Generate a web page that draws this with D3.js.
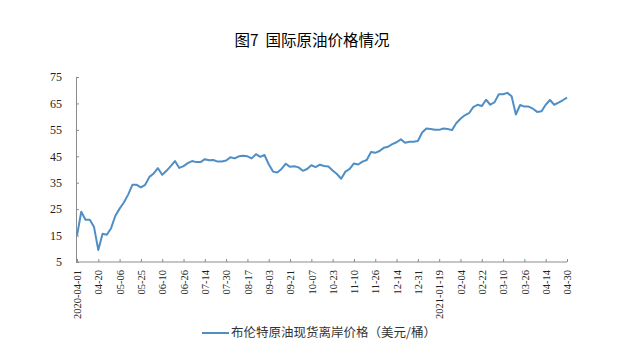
<!DOCTYPE html>
<html>
<head>
<meta charset="utf-8">
<script src="https://cdn.jsdelivr.net/npm/d3@7"></script>
<style>
  body { margin: 0; background: #fff; }
  .axis path, .axis line { stroke: #8c8c8c; }
  .axis text { font-family: "Liberation Serif", "DejaVu Serif", serif; fill: #222; }
</style>
</head>
<body>
<script>
// tick labels on the date axis (one every 5 points)
var tickLabels = ["2020-04-01","04-20","05-06","05-25","06-10","06-26","07-14","07-30","08-17",
                  "09-03","09-21","10-07","10-23","11-10","11-26","12-14","12-31","2021-01-19",
                  "02-04","02-22","03-10","03-26","04-14","04-30"];
// brent spot price, usd/barrel
var brent = [15, 24, 21, 21, 18.2, 9.5, 15.7, 15.3, 17.8, 22.5,
             25.2, 27.5, 30.5, 34.2, 34.2, 33.2, 34.2, 37.2, 38.5, 40.5,
             38, 39.5, 41.3, 43.2, 40.6, 41.3, 42.4, 43.2, 42.8, 42.8,
             43.9, 43.5, 43.6, 43, 43, 43.4, 44.6, 44.2, 45, 45.2,
             45, 44.2, 45.8, 44.8, 45.5, 42, 39.2, 38.9, 40.2, 42.2,
             41, 41.2, 40.8, 39.5, 40.2, 41.6, 40.9, 41.8, 41.3, 41.1,
             39.6, 38.3, 36.5, 39.2, 40.2, 42.3, 41.9, 43, 43.6, 46.6,
             46.3, 47, 48.2, 48.6, 49.6, 50.3, 51.4, 50.1, 50.5, 50.5,
             50.8, 54, 55.5, 55.3, 55, 55, 55.5, 55.3, 54.9, 57.5,
             59.2, 60.5, 61.3, 63.6, 64.5, 64, 66.4, 64.5, 65.5, 68.5,
             68.5, 69, 67.7, 60.8, 64.4, 63.8, 63.8, 63, 61.8, 62,
             64.5, 66.3, 64.5, 65.3, 66.2, 67.2];
var yTicks = [5, 15, 25, 35, 45, 55, 65, 75];
var seriesName = "布伦特原油现货离岸价格（美元/桶）";

var W = 633, H = 355;
var margin = {top: 77, right: 66, bottom: 93, left: 77};

var svg = d3.select("body").append("svg")
    .attr("width", W)
    .attr("height", H);

var x = d3.scaleLinear()
    .domain([0, brent.length - 1])
    .range([margin.left, W - margin.right]);
var y = d3.scaleLinear()
    .domain([5, 75])
    .range([H - margin.bottom, margin.top]);

// title (nbsp keeps the double gap after 图7)
svg.append("text")
    .attr("x", 312)
    .attr("y", 46)
    .attr("text-anchor", "middle")
    .style("font-family", "'Noto Sans CJK SC', sans-serif")
    .style("font-size", "15.5px")
    .style("font-weight", "normal")
    .style("fill", "#000")
    .text("图7\u00a0\u00a0国际原油价格情况");

// y axis
var yAxis = svg.append("g")
    .attr("class", "axis")
    .attr("transform", "translate(" + (margin.left - 1) + ",0)")
    .call(d3.axisRight(y).tickValues(yTicks).tickSize(3).tickSizeOuter(0));
yAxis.selectAll("text")
    .attr("x", -14)
    .style("text-anchor", "end")
    .style("font-size", "12px");

// x axis, labels every 5th point
var xAxis = svg.append("g")
    .attr("class", "axis")
    .attr("transform", "translate(0," + (H - margin.bottom) + ")")
    .call(d3.axisTop(x)
        .tickValues(d3.range(0, brent.length, 5))
        .tickFormat(function(d) { return tickLabels[d / 5]; })
        .tickSize(3)
        .tickSizeOuter(0));
xAxis.select(".domain").attr("d", "M" + (margin.left - 1) + ",0H" + (W - margin.right));
xAxis.selectAll("text")
    .attr("transform", "rotate(-90)")
    .attr("x", -8)
    .attr("y", 0)
    .attr("dy", "0.35em")
    .style("text-anchor", "end")
    .style("font-size", "10.5px");

// price line
var line = d3.line()
    .x(function(d, i) { return x(i); })
    .y(function(d) { return y(d); });

svg.append("path")
    .datum(brent)
    .attr("fill", "none")
    .attr("stroke", "#4f8fc6")
    .attr("stroke-width", 2)
    .attr("stroke-linejoin", "round")
    .attr("d", line);

// legend
var lg = svg.append("g").attr("transform", "translate(202,333)");
lg.append("line")
    .attr("x1", 0).attr("x2", 27)
    .attr("stroke", "#4f8fc6")
    .attr("stroke-width", 2);
lg.append("text")
    .attr("x", 29)
    .attr("dy", "0.35em")
    .style("font-family", "'Noto Sans CJK SC', sans-serif")
    .style("font-size", "12.5px")
    .style("fill", "#333")
    .text(seriesName);
</script>
</body>
</html>
